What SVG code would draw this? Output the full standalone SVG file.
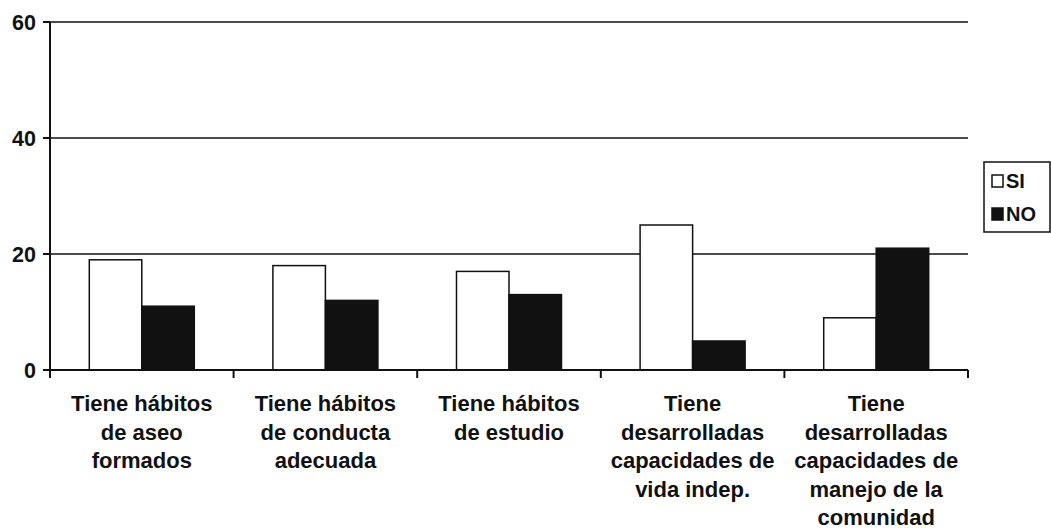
<svg xmlns="http://www.w3.org/2000/svg" width="1051" height="530" viewBox="0 0 1051 530">
<style>
text{font-family:"Liberation Sans",Arial,sans-serif;font-weight:bold;fill:#111}
.ax{stroke:#111;stroke-width:2;fill:none}
.gr{stroke:#111;stroke-width:1.5;fill:none}
.si{fill:#fff;stroke:#111;stroke-width:1.5}
.no{fill:#111;stroke:#111;stroke-width:1.5}
.yl{font-size:21.5px;text-anchor:end}
.cl{font-size:22px;text-anchor:middle}
.lg{font-size:20px}
</style>
<rect width="1051" height="530" fill="#fff"/>
<g id="grid">
<line class="gr" x1="50" y1="22" x2="968" y2="22"/>
<line class="gr" x1="50" y1="138" x2="968" y2="138"/>
<line class="gr" x1="50" y1="254" x2="968" y2="254"/>
</g>
<g id="bars">
<g id="cat1"><rect class="si" x="89.3" y="259.8" width="52.5" height="110.2"/><rect class="no" x="141.8" y="306.2" width="52.5" height="63.8"/></g>
<g id="cat2"><rect class="si" x="272.9" y="265.6" width="52.5" height="104.4"/><rect class="no" x="325.4" y="300.4" width="52.5" height="69.6"/></g>
<g id="cat3"><rect class="si" x="456.5" y="271.4" width="52.5" height="98.6"/><rect class="no" x="509" y="294.6" width="52.5" height="75.4"/></g>
<g id="cat4"><rect class="si" x="640.1" y="225" width="52.5" height="145"/><rect class="no" x="692.6" y="341" width="52.5" height="29"/></g>
<g id="cat5"><rect class="si" x="823.7" y="317.8" width="52.5" height="52.2"/><rect class="no" x="876.2" y="248.2" width="52.5" height="121.8"/></g>
</g>
<g id="axes">
<line class="ax" x1="50" y1="22" x2="50" y2="371"/>
<line class="ax" x1="49" y1="370" x2="968" y2="370"/>
<line class="ax" x1="43" y1="22" x2="50" y2="22"/>
<line class="ax" x1="43" y1="138" x2="50" y2="138"/>
<line class="ax" x1="43" y1="254" x2="50" y2="254"/>
<line class="ax" x1="43" y1="370" x2="50" y2="370"/>
<line class="ax" x1="50" y1="370" x2="50" y2="378"/>
<line class="ax" x1="233.6" y1="370" x2="233.6" y2="378"/>
<line class="ax" x1="417.2" y1="370" x2="417.2" y2="378"/>
<line class="ax" x1="600.8" y1="370" x2="600.8" y2="378"/>
<line class="ax" x1="784.4" y1="370" x2="784.4" y2="378"/>
<line class="ax" x1="968" y1="370" x2="968" y2="378"/>
</g>
<g id="ylabels">
<text class="yl" x="36" y="30">60</text>
<text class="yl" x="36" y="146">40</text>
<text class="yl" x="36" y="262">20</text>
<text class="yl" x="36" y="378">0</text>
</g>
<g id="xlabels">
<text class="cl" x="141.8" y="411">Tiene hábitos<tspan x="141.8" dy="28.6">de aseo</tspan><tspan x="141.8" dy="28.6">formados</tspan></text>
<text class="cl" x="325.4" y="411">Tiene hábitos<tspan x="325.4" dy="28.6">de conducta</tspan><tspan x="325.4" dy="28.6">adecuada</tspan></text>
<text class="cl" x="509" y="411">Tiene hábitos<tspan x="509" dy="28.6">de estudio</tspan></text>
<text class="cl" x="692.6" y="411">Tiene<tspan x="692.6" dy="28.6">desarrolladas</tspan><tspan x="692.6" dy="28.6">capacidades de</tspan><tspan x="692.6" dy="28.6">vida indep.</tspan></text>
<text class="cl" x="876.2" y="411">Tiene<tspan x="876.2" dy="28.6">desarrolladas</tspan><tspan x="876.2" dy="28.6">capacidades de</tspan><tspan x="876.2" dy="28.6">manejo de la</tspan><tspan x="876.2" dy="28.6">comunidad</tspan></text>
</g>
<g id="legend">
<rect x="984" y="162" width="66" height="70" fill="#fff" stroke="#111" stroke-width="1.5"/>
<rect class="si" x="992" y="175" width="11" height="12"/>
<text class="lg" x="1006" y="188">SI</text>
<rect class="no" x="992" y="208" width="11" height="12"/>
<text class="lg" x="1006" y="221">NO</text>
</g>
</svg>
